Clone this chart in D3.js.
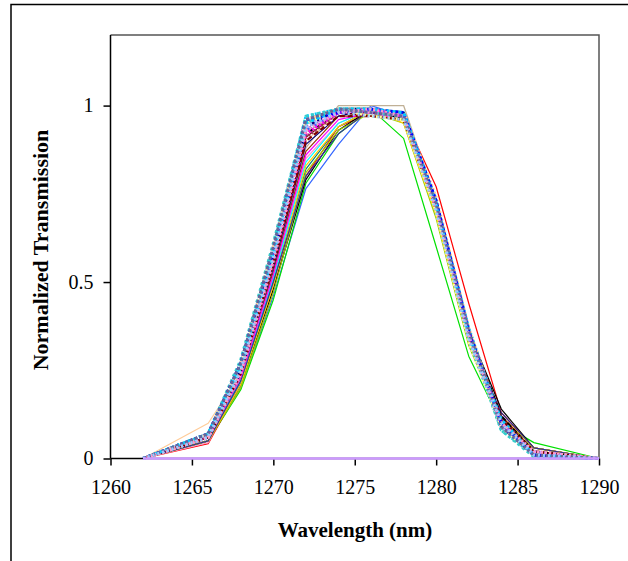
<!DOCTYPE html>
<html>
<head>
<meta charset="utf-8">
<script src="https://cdn.jsdelivr.net/npm/d3@7"></script>
<style>
html,body{margin:0;padding:0;background:#fff;}
svg{display:block;}
</style>
</head>
<body>
<svg id="chart" width="628" height="561"></svg>
<script>
// ---- data ----
const wavelengths = [1262,1266,1268,1270,1272,1274,1276,1278,1280,1282,1284,1286,1290];
const xTicks = [1260,1265,1270,1275,1280,1285,1290];
const yTicks = [0,0.5,1];
const yTickLabels = ["0","0.5","1"];
const xTitle = "Wavelength (nm)";
const yTitle = "Normalized Transmission";

const s01 = [0,0.05,0.20,0.46,0.765,0.89,1.00,0.97,0.70,0.34,0.12,0.02,0];
const s02 = [0,0.05,0.195,0.45,0.78,0.92,0.99,0.907,0.60,0.29,0.10,0.045,0];
const s03 = [0,0.042,0.21,0.48,0.80,0.94,0.98,0.97,0.77,0.44,0.13,0.03,0];
const s04 = [0,0.05,0.21,0.48,0.79,0.93,0.99,0.96,0.71,0.36,0.14,0.03,0];
const s05 = [0,0.06,0.22,0.52,0.88,1.00,1.00,1.00,0.73,0.35,0.10,0.02,0];
const s06 = [0,0.10,0.24,0.55,0.90,0.98,0.99,0.97,0.72,0.34,0.10,0.02,0];
const s07 = [0,0.045,0.22,0.51,0.85,0.95,0.99,0.96,0.70,0.34,0.11,0.02,0];
const s08 = [0,0.05,0.21,0.50,0.82,0.94,0.99,0.96,0.69,0.33,0.11,0.02,0];
const s09 = [0,0.05,0.20,0.47,0.81,0.93,0.98,0.95,0.68,0.32,0.10,0.03,0];
const s10 = [0,0.06,0.22,0.51,0.84,0.95,0.99,0.96,0.70,0.33,0.11,0.02,0];
const s11 = [0,0.06,0.23,0.53,0.87,0.97,0.97,0.97,0.71,0.35,0.12,0.02,0];
const s12 = [0,0.05,0.21,0.49,0.83,0.94,0.99,0.95,0.69,0.33,0.12,0.03,0];
const s13 = [0,0.05,0.22,0.50,0.80,0.92,0.99,0.96,0.70,0.34,0.13,0.03,0];
const s14 = [0,0.06,0.24,0.54,0.89,0.97,0.99,0.97,0.72,0.36,0.12,0.02,0];
const s15 = [0,0.06,0.23,0.52,0.86,0.96,0.98,0.96,0.70,0.34,0.11,0.02,0];
const s16 = [0,0.06,0.25,0.55,0.91,0.98,0.97,0.96,0.71,0.35,0.12,0.02,0];
const s17 = [0,0.06,0.25,0.57,0.93,0.98,0.99,0.97,0.72,0.36,0.11,0.01,0];
const s18 = [0,0.07,0.27,0.60,0.97,0.99,0.99,0.98,0.73,0.37,0.10,0.01,0];
const s19 = [0,0.07,0.26,0.59,0.96,0.99,0.98,0.97,0.72,0.36,0.09,0.01,0];
const s20 = [0,0.06,0.25,0.58,0.94,0.98,0.99,0.97,0.71,0.35,0.10,0.01,0];
const s21 = [0,0.06,0.24,0.56,0.92,0.98,0.99,0.96,0.70,0.34,0.11,0.02,0];
const s22 = [0,0.06,0.25,0.57,0.94,0.99,0.98,0.97,0.71,0.35,0.10,0.01,0];
const s23 = [0,0.06,0.24,0.56,0.93,0.98,0.99,0.97,0.72,0.35,0.09,0.01,0];
const s24 = [0,0.06,0.25,0.56,0.92,0.98,0.99,0.96,0.71,0.36,0.12,0.02,0];
const s25 = [0,0.07,0.27,0.60,0.96,0.99,0.99,0.98,0.73,0.36,0.09,0.01,0];
const s26 = [0,0.07,0.26,0.59,0.95,0.99,0.99,0.97,0.72,0.35,0.08,0.01,0];
const s27 = [0,0.06,0.25,0.57,0.93,0.98,0.99,0.97,0.71,0.34,0.10,0.01,0];
const s28 = [0,0.06,0.24,0.55,0.91,0.98,0.99,0.97,0.72,0.36,0.11,0.02,0];
const s29 = [0,0.06,0.25,0.57,0.94,0.99,0.99,0.98,0.72,0.35,0.09,0.01,0];
const s30 = [0,0.07,0.27,0.60,0.96,0.99,0.99,0.98,0.74,0.37,0.10,0.01,0];
const s31 = [0,0.06,0.25,0.58,0.95,0.99,0.99,0.97,0.72,0.36,0.10,0.01,0];
const s32 = [0,0.06,0.24,0.56,0.92,0.98,0.99,0.97,0.71,0.35,0.10,0.01,0];
const s33 = [0,0.06,0.24,0.55,0.90,0.97,0.97,0.96,0.71,0.35,0.11,0.02,0];
const s35 = [0,0.07,0.28,0.61,0.97,0.99,0.98,0.97,0.72,0.34,0.08,0.005,0];
const s36 = [0,0.06,0.26,0.58,0.95,0.99,0.97,0.96,0.70,0.33,0.09,0.01,0];
const s37 = [0,0.07,0.27,0.59,0.96,0.98,0.99,0.98,0.73,0.36,0.10,0.01,0];
const s38 = [0,0.06,0.25,0.57,0.94,0.99,0.98,0.97,0.71,0.34,0.09,0.02,0];
const s39 = [0,0.07,0.26,0.58,0.95,0.99,0.99,0.98,0.72,0.35,0.11,0.01,0];
const s40 = [0,0.06,0.24,0.56,0.93,0.98,0.99,0.97,0.71,0.35,0.10,0.02,0];
const s41 = [0,0.07,0.27,0.60,0.96,0.99,0.98,0.97,0.72,0.36,0.09,0.01,0];
const s42 = [0,0.06,0.25,0.57,0.94,0.98,0.97,0.96,0.70,0.34,0.10,0.01,0];
const s34 = [0,0,0,0,0,0,0,0,0,0,0,0,0];

const seriesList = [s01,s02,s03,s04,s05,s06,s07,s08,s09,s10,s11,s12,s13,s14,s15,s16,
  s17,s18,s19,s20,s21,s22,s23,s24,s25,s26,s27,s28,s29,s30,s31,s32,s33,
  s35,s36,s37,s38,s39,s40,s41,s42,s34];

// ---- styles (separate from data) ----
const seriesColors = ["#3366FF","#00E000","#FF0000","#000000","#C0B096","#FFCC99","#FF99CC","#008080",
  "#99CC00","#00FFFF","#993300","#FFCC00","#333399","#000080","#FF00FF","#800000",
  "#0000FF","#00CCFF","#FF99CC","#CC99FF","#FFFF00","#800080","#666699","#000000",
  "#99CCFF","#33CCCC","#3366FF","#993366","#000080","#FFCC99","#969696","#FF00FF","#800000",
  "#33CCCC","#FFFF99","#0000FF","#CC99FF","#00CCFF","#FF99CC","#666699","#99CCFF","#CC99FF"];
const seriesDash = ["","","","","","","","","","","","","","","","",
  "2,2","2,2","2,2","2,2","2,2","5,3","2,2","5,3","2,2","2,2","5,3","2,2","5,3","2,2","2,2","2,2","5,3",
  "3,3","2,2","3,2","2,3","3,3","2,2","3,2","2,3",""];
const seriesWidth = [1.2,1.2,1.2,1.2,1.3,1.2,1.2,1.2,1.2,1.2,1.2,1.2,1.2,1.2,1.2,1.2,
  3,3,3,3,3,2.2,3,2.2,3,3,2.2,3,2.2,3,3,3,2.2,
  3,3,3,3,3,3,3,3,2.5];

// ---- drawing ----
const svg = d3.select("#chart");
const x = d3.scaleLinear().domain([1260,1290]).range([110.5,599]);
const y = d3.scaleLinear().domain([0,1.2]).range([458.5,35]);

// outer frame (clipped at right/bottom)
svg.append("rect").attr("x",11).attr("y",4.5).attr("width",800).attr("height",800)
  .attr("fill","none").attr("stroke","#000").attr("stroke-width",1.5);

// plot area frame (top/right)
svg.append("path")
  .attr("d",`M${x(1260)},${y(1.2)}H${x(1290)}V${y(0)}`)
  .attr("fill","none").attr("stroke","#555").attr("stroke-width",1.5);

// axes
const xAxis = d3.axisBottom(x).tickValues(xTicks).tickSize(7).tickPadding(14).tickFormat(d3.format("d"));
const yAxis = d3.axisLeft(y).tickValues(yTicks).tickSize(7).tickPadding(10).tickFormat((d,i)=>yTickLabels[i]);

const gx = svg.append("g").attr("transform",`translate(0,${y(0)})`).call(xAxis);
const gy = svg.append("g").attr("transform",`translate(${x(1260)},0)`).call(yAxis);
[gx,gy].forEach(g=>{
  g.select(".domain").attr("stroke","#000").attr("stroke-width",1.5);
  g.selectAll(".tick line").attr("stroke","#000").attr("stroke-width",1.5);
  g.selectAll(".tick text").attr("font-family","'Liberation Serif','Times New Roman',serif")
    .attr("font-size",20).attr("fill","#000");
});
gy.select(".domain").attr("d",`M0,${y(1.2)}V${y(0)}`);
gx.select(".domain").attr("d",`M${x(1260)},0H${x(1290)}`);

// series lines
const line = d3.line().x((d,i)=>x(wavelengths[i])).y(d=>y(d));
const gl = svg.append("g");
seriesList.forEach((s,k)=>{
  gl.append("path").datum(s).attr("d",line)
    .attr("fill","none").attr("stroke",seriesColors[k])
    .attr("stroke-width",seriesWidth[k])
    .attr("stroke-dasharray",seriesDash[k]||null)
    .attr("stroke-linejoin","round");
});

// titles
svg.append("text").attr("x",355).attr("y",537).attr("text-anchor","middle")
  .attr("font-family","'Liberation Serif','Times New Roman',serif").attr("font-weight","bold")
  .attr("font-size",21).text(xTitle);
svg.append("text").attr("transform","translate(48,250) rotate(-90)").attr("text-anchor","middle")
  .attr("font-family","'Liberation Serif','Times New Roman',serif").attr("font-weight","bold")
  .attr("font-size",22).text(yTitle);
</script>
</body>
</html>
